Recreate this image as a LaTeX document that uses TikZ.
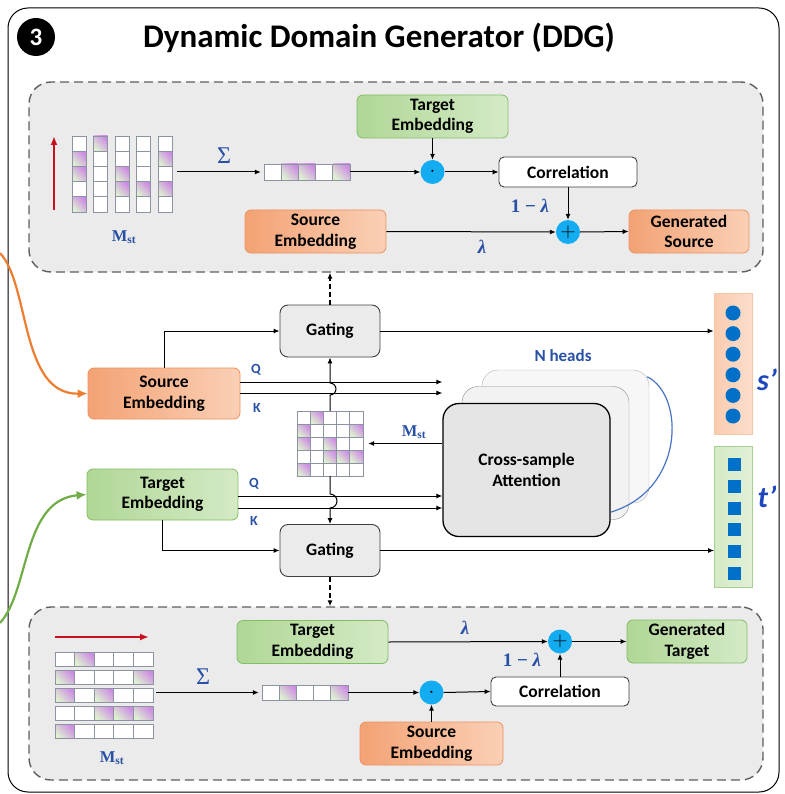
\documentclass[tikz,border=0pt]{standalone}
\usepackage{amsmath,amssymb,bm}
\usepackage[no-math]{fontspec}
\setmainfont{Carlito}
\newfontfamily\mathlike{Liberation Serif}
\usepackage{xcolor}
\usepackage{tikz}
\usetikzlibrary{arrows.meta,calc,positioning}
\definecolor{orgdark}{RGB}{243,162,116}
\definecolor{orglight}{RGB}{250,208,182}
\definecolor{orgline}{RGB}{236,146,96}
\definecolor{grndark}{RGB}{176,215,150}
\definecolor{grnlight}{RGB}{212,234,198}
\definecolor{grnline}{RGB}{130,188,100}
\definecolor{panelgray}{RGB}{235,235,235}
\definecolor{dashgray}{RGB}{95,95,95}
\definecolor{labblue}{RGB}{40,80,165}
\definecolor{opcyan}{RGB}{20,172,240}
\definecolor{cellpur}{RGB}{205,140,228}
\definecolor{cellgrn}{RGB}{222,240,208}
\definecolor{cellline}{RGB}{140,148,162}
\definecolor{headblue}{RGB}{72,116,196}
\definecolor{primeblue}{RGB}{30,70,190}
\definecolor{dotblue}{RGB}{0,112,200}
\definecolor{arrowred}{RGB}{200,16,30}
\definecolor{curveorg}{RGB}{237,125,49}
\definecolor{curvegrn}{RGB}{112,173,71}
\newcommand{\boxtxt}{\fontsize{17.5}{20.5}\selectfont\bfseries}
\newcommand{\msub}{{\mathlike\bfseries M\textsubscript{st}}}
\newcommand{\lam}{{\mathlike\bfseries\itshape λ}}
\newcommand{\onelam}{{\mathlike\bfseries 1 − {\itshape λ}}}
\tikzset{
  panel/.style={draw=dashgray,dash pattern=on 9pt off 5pt,line width=1.4pt,fill=panelgray,rounded corners=22pt,inner sep=0pt},
  srcbox/.style={draw=orgline,line width=0.8pt,left color=orgdark,right color=orglight,rounded corners=6pt,minimum height=43pt,align=center,font=\boxtxt},
  tgtbox/.style={draw=grnline,line width=0.8pt,left color=grndark,right color=grnlight,rounded corners=6pt,minimum height=43pt,align=center,font=\boxtxt},
  gatebox/.style={draw=black!75,line width=0.9pt,fill=panelgray,rounded corners=8pt,minimum width=100pt,minimum height=52pt,font=\boxtxt},
  corrbox/.style={draw=black!75,line width=0.9pt,fill=white,rounded corners=5pt,minimum width=138pt,minimum height=30pt,font=\boxtxt},
  opnode/.style={circle,fill=opcyan,minimum size=24pt,inner sep=0pt,font=\fontsize{20}{20}\selectfont\bfseries},
  headbox/.style={rounded corners=16pt,minimum width=167pt,minimum height=133pt,inner sep=0pt},
  vecbox/.style={minimum width=38pt,minimum height=141pt,inner sep=0pt,line width=0.8pt},
  arr/.style={-{Latex[length=6pt,width=5pt]},line width=1pt,draw=black},
  dasharr/.style={-{Latex[length=6pt,width=5pt]},line width=1.3pt,dash pattern=on 5pt off 3pt},
  redarr/.style={-{Latex[length=9pt,width=7pt]},line width=2.2pt,draw=arrowred},
  feedcurve/.style={-{Latex[length=10pt,width=9pt]},line width=2.2pt},
  cellw/.style={draw=cellline,line width=0.8pt,fill=white},
  cellp/.style={draw=cellline,line width=0.8pt,left color=cellgrn,right color=cellpur,shading angle=135},
  tag/.style={text=labblue,font=\fontsize{14}{16}\selectfont\bfseries},
  mathtag/.style={text=labblue,font=\fontsize{16.5}{18}\selectfont},
  lamtag/.style={text=labblue,font=\fontsize{19}{20}\selectfont},
  sigtag/.style={text=labblue,font=\fontsize{24}{26}\selectfont\mathlike},
  primetag/.style={text=primeblue,font=\fontsize{30}{32}\selectfont\bfseries\itshape}
}

\begin{document}
\begin{tikzpicture}[x=1pt,y=-1pt]
  \useasboundingbox (0,0) rectangle (784,794);
  \draw[line width=1pt,rounded corners=20pt] (8,8) rectangle (779,792);
  \node[circle,fill=black,minimum size=38pt,inner sep=0pt,text=white,font=\fontsize{25}{25}\selectfont\bfseries] (num) at (36,37) {3};
  \node[font=\fontsize{33}{35}\selectfont\bfseries] (title) at (379,38) {Dynamic Domain Generator (DDG)};

  % source branch (top panel)
  \node[panel,minimum width=734pt,minimum height=190pt] (toppanel) at (396,177) {};
  \coordinate (uptail) at (54,210); \coordinate (uphead) at (54,136);
  \draw[redarr] (uptail) -- (uphead);
  \node[inner sep=0pt,minimum width=100pt,minimum height=76pt] (mattop) at (122,174) {};
  \foreach \c in {0,...,4}{\foreach \r in {0,...,4}{\draw[cellw] ({72+21.5*\c},{136+15.2*\r}) rectangle ++(14,15.2);}}
  \foreach \c/\r in {0/1,0/2,0/4,1/0,2/2,2/3,3/3,4/1,4/3}{\draw[cellp] ({72+21.5*\c},{136+15.2*\r}) rectangle ++(14,15.2);}
  \node[mathtag] (mtop) at (124,237) {\msub};
  \node[inner sep=0pt,minimum width=86pt,minimum height=16pt] (vtop) at (307,172) {};
  \foreach \i in {0,...,4}{\draw[cellw] ({264+17.2*\i},164) rectangle ++(17.2,16);}
  \foreach \i in {1,2,4}{\draw[cellp] ({264+17.2*\i},164) rectangle ++(17.2,16);}
  \draw[arr,shorten <=5pt,shorten >=3pt] (mattop.east |- vtop.west) -- (vtop.west);
  \node[sigtag] (sig1) at (224,156) {Σ};
  \node[tgtbox,minimum width=151pt] (tgt1) at (432.5,116.5) {Target\\Embedding};
  \node[srcbox,minimum width=141pt] (src1) at (315.5,231.5) {Source\\Embedding};
  \node[opnode] (dot1) at (432.5,172) {$\cdot$};
  \node[corrbox] (corr1) at (568,172) {Correlation};
  \node[opnode] (plus1) at (568,232) {$+$};
  \node[srcbox,minimum width=120pt] (gen1) at (689,231.5) {Generated\\Source};
  \draw[arr] (vtop.east) -- (dot1.west);
  \draw[arr] (tgt1.south) -- (dot1.north);
  \draw[arr] (dot1.east) -- (corr1.west);
  \draw[arr] (corr1.south) -- (plus1.north);
  \draw[arr] (src1.east) -- (plus1.west);
  \draw[arr] (plus1.east) -- (gen1.west);
  \node[lamtag] (oml1) at (530,206) {\onelam};
  \node[lamtag] (lam1) at (482,247) {\lam};

  % middle
  \node[gatebox] (gate1) at (330,331) {Gating};
  \node[gatebox] (gate2) at (330,550.5) {Gating};
  \node[srcbox,minimum width=152pt,minimum height=51pt] (srcm) at (164,393.5) {Source\\Embedding};
  \node[tgtbox,minimum width=151pt,minimum height=51pt] (tgtm) at (162.5,494.5) {Target\\Embedding};
  \node[headbox,draw=black!30,fill=black!3] (head3) at (565.5,436.5) {};
  \node[headbox,draw=black!45,fill=black!5] (head2) at (545.5,453) {};
  \node[headbox,draw=black,line width=1.3pt,fill=black!10,align=center,font=\boxtxt] (att) at (526.5,470) {Cross-sample\\Attention};
  \draw[headblue,line width=1.2pt] ([yshift=25pt]att.south east) .. controls (685,490) and (685,395) .. ([xshift=-2pt,yshift=-7pt]head3.north east);
  \node[tag,font=\fontsize{17}{18}\selectfont\bfseries] (nheads) at (563,356) {N heads};
  \node[inner sep=0pt,minimum width=66pt,minimum height=65pt] (matmid) at (330,443.5) {};
  \foreach \c in {0,...,4}{\foreach \r in {0,...,4}{\draw[cellw] ({297+13.2*\c},{411+13*\r}) rectangle ++(13.2,13);}}
  \foreach \c/\r in {1/0,0/1,4/1,0/2,2/2,2/3,3/3,4/3,0/4}{\draw[cellp] ({297+13.2*\c},{411+13*\r}) rectangle ++(13.2,13);}
  \draw[arr,shorten >=5pt] (att.west |- matmid.east) -- (matmid.east);
  \node[mathtag] (mmid) at (414,432) {\msub};
  % Q and K
  \coordinate (qs) at (0,382); \coordinate (ks) at (0,393);
  \coordinate (qt) at (0,496); \coordinate (kt) at (0,508);
  \draw[arr] (srcm.east |- qs) -- (att.west |- qs);
  \draw[arr] (srcm.east |- ks) -- (att.west |- ks);
  \draw[arr] (tgtm.east |- qt) -- (att.west |- qt);
  \draw[arr] (tgtm.east |- kt) -- (att.west |- kt);
  \node[tag] (q1) at (256,370) {Q};
  \node[tag] (k1) at (257,408) {K};
  \node[tag] (q2) at (254,484) {Q};
  \node[tag] (k2) at (254,521) {K};
  \draw[arr] (matmid.north) -- (330,395) arc[start angle=90,end angle=-90,radius=6] -- (gate1.south);
  \draw[arr] (matmid.south) -- (330,494) arc[start angle=-90,end angle=90,radius=7] -- (gate2.north);
  \draw[arr] (srcm.north) |- (gate1.west);
  \draw[arr] (tgtm.south) |- (gate2.west);
  % outputs
  \node[vecbox,draw=orglight!80!orgline,left color=orglight!90!orgdark,right color=orglight!70!white] (sv) at (733,363.5) {};
  \node[vecbox,draw=grnline!70,left color=grnlight,right color=grnlight!70!white] (tv) at (733.5,516.5) {};
  \foreach \i in {0,...,5}{\fill[dotblue] ({733},{313+20.6*\i}) circle (7.5pt);}
  \foreach \i in {0,...,5}{\fill[dotblue] ({727.5},{458+21.8*\i}) rectangle ++(13,13);}
  \node[primetag] (slab) at (767,380) {s’};
  \node[primetag] (tlab) at (767,497) {t’};
  \draw[arr] (gate1.east) -- (gate1.east -| sv.west);
  \draw[arr] (gate2.east) -- (gate2.east -| tv.west);
  % inputs from outside
  \coordinate (srcin) at (0,253); \coordinate (tgtin) at (0,623);
  \draw[feedcurve,draw=curveorg] (srcin) .. controls (30,285) and (20,395) .. (srcm.west);
  \draw[feedcurve,draw=curvegrn] (tgtin) .. controls (30,590) and (22,500) .. (tgtm.west);

  % target branch (bottom panel)
  \node[panel,minimum width=734pt,minimum height=173pt] (botpanel) at (396,693.5) {};
  \draw[dasharr] (gate1.north) -- (gate1.north |- toppanel.south);
  \draw[dasharr] (gate2.south) -- (gate2.south |- botpanel.north);
  \coordinate (rtail) at (55,637); \coordinate (rhead) at (149,637);
  \draw[redarr] (rtail) -- (rhead);
  \node[inner sep=0pt,minimum width=98pt,minimum height=86pt] (matbot) at (104,695) {};
  \foreach \c in {0,...,4}{\foreach \r in {0,...,4}{\draw[cellw] ({55+19.6*\c},{652+18*\r}) rectangle ++(19.6,14);}}
  \foreach \c/\r in {1/0,0/1,4/1,0/2,2/2,2/3,3/3,4/3,0/4}{\draw[cellp] ({55+19.6*\c},{652+18*\r}) rectangle ++(19.6,14);}
  \node[mathtag] (mbot) at (112,758) {\msub};
  \node[inner sep=0pt,minimum width=86pt,minimum height=15pt] (vbot) at (305,692.5) {};
  \foreach \i in {0,...,4}{\draw[cellw] ({262+17.2*\i},685) rectangle ++(17.2,15);}
  \foreach \i in {1,4}{\draw[cellp] ({262+17.2*\i},685) rectangle ++(17.2,15);}
  \draw[arr,shorten <=3pt,shorten >=3pt] (matbot.east |- vbot.west) -- (vbot.west);
  \node[sigtag] (sig2) at (203,677) {Σ};
  \node[tgtbox,minimum width=151pt] (tgt2) at (312.5,642) {Target\\Embedding};
  \node[srcbox,minimum width=143pt] (src2) at (431.5,743.5) {Source\\Embedding};
  \node[opnode] (dot2) at (431.5,692.5) {$\cdot$};
  \node[corrbox,minimum height=29pt] (corr2) at (560,691.5) {Correlation};
  \node[opnode] (plus2) at (560,641.5) {$+$};
  \node[tgtbox,minimum width=120pt] (gen2) at (687,641.5) {Generated\\Target};
  \draw[arr] (vbot.east) -- (dot2.west);
  \draw[arr] (src2.north) -- (dot2.south);
  \draw[arr] (dot2.east) -- (corr2.west);
  \draw[arr] (corr2.north) -- (plus2.south);
  \draw[arr] (tgt2.east) -- (plus2.west);
  \draw[arr] (plus2.east) -- (gen2.west);
  \node[lamtag] (oml2) at (522,660) {\onelam};
  \node[lamtag] (lam2) at (465,628) {\lam};
\end{tikzpicture}
\end{document}
